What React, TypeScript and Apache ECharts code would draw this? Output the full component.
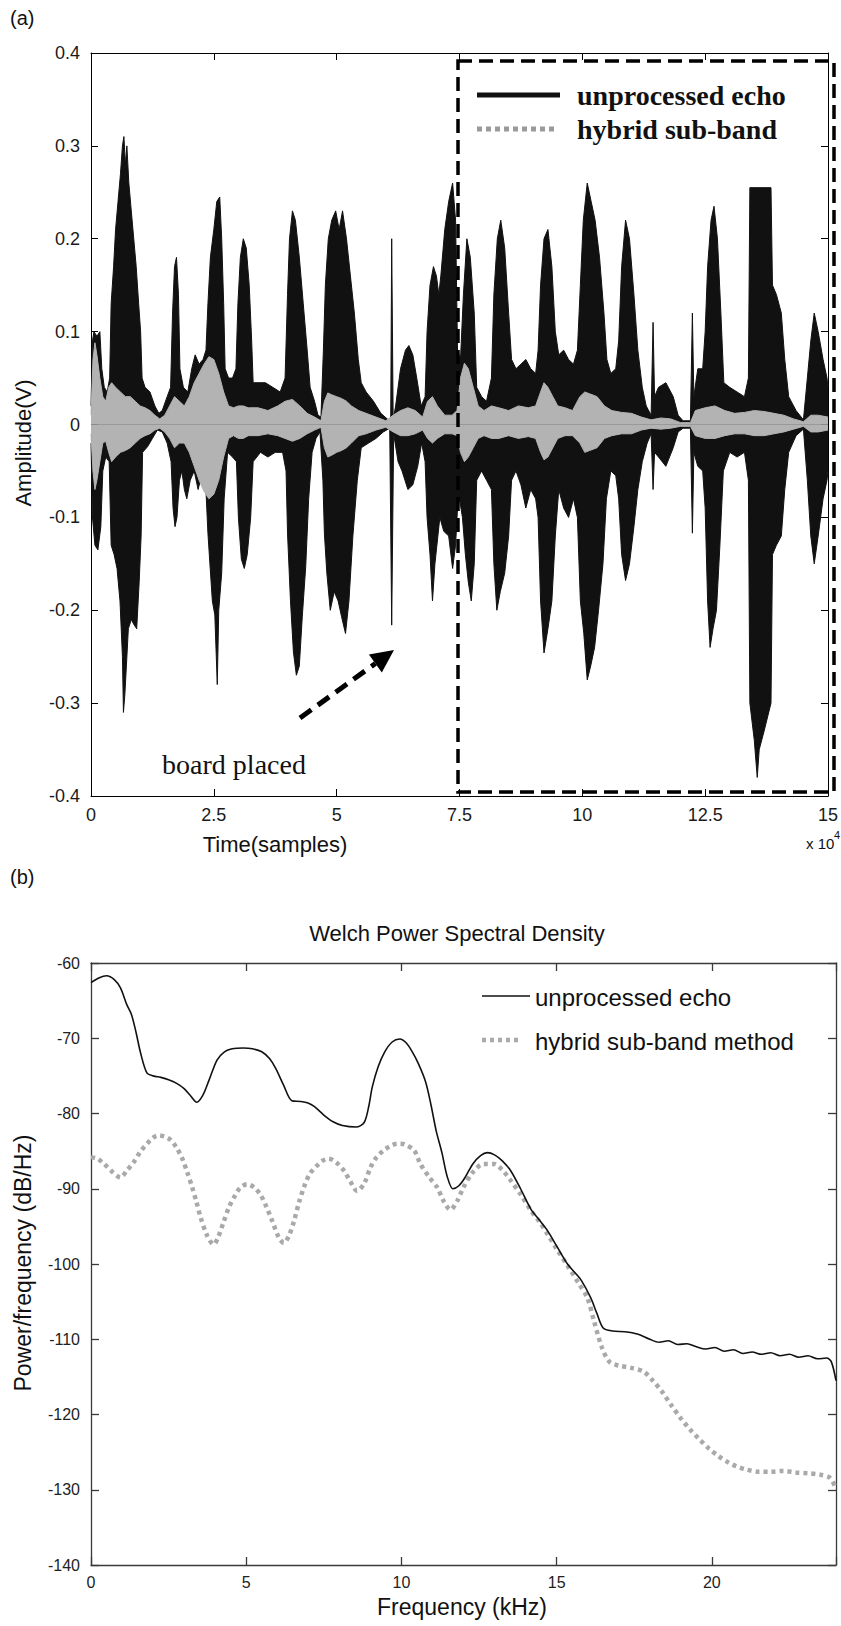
import React, { useEffect, useRef } from 'react';
import * as echarts from 'echarts';

// ---------- (a) time-domain envelopes: [time (x10^4 samples), amplitude (V)] ----------
const ECHO_UPPER: [number, number][] = [
  [0, 0.02], [0.03, 0.09], [0.06, 0.1], [0.12, 0.095], [0.18, 0.1], [0.22, 0.06], [0.27, 0.04], [0.33, 0.035], [0.38, 0.05],
  [0.41, 0.13], [0.46, 0.17], [0.5, 0.21], [0.55, 0.24], [0.6, 0.27], [0.64, 0.3], [0.67, 0.31], [0.7, 0.28], [0.73, 0.3], [0.77, 0.26], [0.82, 0.23], [0.87, 0.2], [0.92, 0.17], [0.97, 0.13], [1.01, 0.1], [1.04, 0.05],
  [1.1, 0.04], [1.2, 0.035], [1.3, 0.02], [1.38, 0.012], [1.45, 0.015], [1.55, 0.03], [1.62, 0.04],
  [1.66, 0.12], [1.7, 0.17], [1.74, 0.18], [1.78, 0.14], [1.81, 0.06],
  [1.88, 0.04], [1.97, 0.035], [2.05, 0.06], [2.12, 0.075], [2.2, 0.065], [2.28, 0.07], [2.34, 0.08],
  [2.38, 0.13], [2.43, 0.18], [2.5, 0.21], [2.56, 0.24], [2.62, 0.245], [2.66, 0.2], [2.7, 0.13], [2.73, 0.06],
  [2.8, 0.05], [2.88, 0.05], [2.95, 0.06],
  [2.99, 0.13], [3.04, 0.18], [3.1, 0.2], [3.16, 0.19], [3.22, 0.15], [3.27, 0.09], [3.3, 0.045],
  [3.4, 0.045], [3.55, 0.045], [3.7, 0.04], [3.85, 0.035], [3.95, 0.05],
  [4.0, 0.14], [4.04, 0.2], [4.1, 0.23], [4.16, 0.22], [4.24, 0.18], [4.32, 0.13], [4.4, 0.08], [4.46, 0.04],
  [4.55, 0.025], [4.62, 0.01], [4.68, 0.008],
  [4.73, 0.08], [4.77, 0.15], [4.83, 0.2], [4.9, 0.22], [4.98, 0.23], [5.05, 0.21], [5.12, 0.23], [5.2, 0.2], [5.28, 0.16], [5.36, 0.12], [5.44, 0.07],
  [5.5, 0.045], [5.6, 0.035], [5.75, 0.025], [5.9, 0.012], [6.05, 0.005], [6.1, 0.005], [6.12, 0.2], [6.15, 0.005],
  [6.2, 0.02], [6.3, 0.06], [6.4, 0.08], [6.47, 0.085], [6.55, 0.075], [6.63, 0.05], [6.72, 0.02], [6.8, 0.03],
  [6.84, 0.1], [6.9, 0.15], [6.97, 0.17], [7.03, 0.16], [7.08, 0.14],
  [7.12, 0.16], [7.2, 0.21], [7.28, 0.24], [7.36, 0.26], [7.42, 0.22], [7.46, 0.08],
  [7.52, 0.07], [7.58, 0.14], [7.65, 0.2], [7.72, 0.18], [7.8, 0.12], [7.85, 0.04],
  [7.95, 0.03], [8.05, 0.025], [8.15, 0.05],
  [8.2, 0.14], [8.27, 0.2], [8.34, 0.22], [8.42, 0.19], [8.5, 0.12], [8.56, 0.07],
  [8.65, 0.06], [8.75, 0.065], [8.85, 0.07], [8.95, 0.06], [9.05, 0.055], [9.1, 0.08],
  [9.15, 0.15], [9.22, 0.2], [9.3, 0.21], [9.38, 0.17], [9.45, 0.1],
  [9.52, 0.075], [9.62, 0.08], [9.72, 0.07], [9.82, 0.065], [9.9, 0.08],
  [9.96, 0.15], [10.02, 0.22], [10.1, 0.26], [10.18, 0.24], [10.26, 0.22], [10.35, 0.18], [10.44, 0.12], [10.5, 0.07],
  [10.58, 0.055], [10.68, 0.06], [10.74, 0.09],
  [10.8, 0.17], [10.88, 0.22], [10.96, 0.2], [11.05, 0.14], [11.13, 0.08],
  [11.22, 0.04], [11.3, 0.02], [11.4, 0.01], [11.44, 0.11], [11.47, 0.03], [11.55, 0.04], [11.7, 0.045], [11.85, 0.03], [11.95, 0.01],
  [12.05, 0.004], [12.2, 0.004], [12.24, 0.12], [12.27, 0.03], [12.35, 0.06], [12.45, 0.06], [12.5, 0.1],
  [12.55, 0.17], [12.62, 0.22], [12.68, 0.235], [12.75, 0.2], [12.82, 0.12], [12.88, 0.045],
  [13.0, 0.04], [13.15, 0.035], [13.3, 0.03], [13.38, 0.05],
  [13.41, 0.255], [13.84, 0.255], [13.87, 0.15], [13.95, 0.14], [14.05, 0.12], [14.12, 0.07],
  [14.2, 0.03], [14.35, 0.015], [14.5, 0.005],
  [14.58, 0.05], [14.65, 0.09], [14.72, 0.12], [14.8, 0.1], [14.9, 0.07], [14.98, 0.05], [15.0, 0.04],
];

const ECHO_LOWER: [number, number][] = [
  [0, -0.02], [0.03, -0.1], [0.08, -0.13], [0.14, -0.135], [0.2, -0.11], [0.24, -0.05], [0.3, -0.035], [0.37, -0.04],
  [0.41, -0.13], [0.47, -0.14], [0.53, -0.155], [0.59, -0.19], [0.64, -0.25], [0.66, -0.31], [0.69, -0.29], [0.72, -0.26], [0.76, -0.22], [0.82, -0.21], [0.87, -0.215], [0.93, -0.22], [0.98, -0.17], [1.02, -0.12], [1.05, -0.03],
  [1.15, -0.024], [1.25, -0.015], [1.35, -0.006], [1.45, -0.008], [1.55, -0.02], [1.63, -0.04],
  [1.67, -0.09], [1.71, -0.11], [1.75, -0.1], [1.8, -0.06],
  [1.85, -0.05], [1.9, -0.07], [1.95, -0.08], [2.02, -0.06], [2.1, -0.05], [2.18, -0.07], [2.25, -0.055], [2.33, -0.06],
  [2.38, -0.117], [2.42, -0.15], [2.47, -0.19], [2.52, -0.205], [2.57, -0.28], [2.6, -0.2], [2.66, -0.16], [2.71, -0.08],
  [2.78, -0.03], [2.88, -0.035], [2.96, -0.04],
  [3.0, -0.1], [3.06, -0.145], [3.12, -0.155], [3.18, -0.14], [3.25, -0.1], [3.3, -0.04],
  [3.45, -0.03], [3.6, -0.035], [3.75, -0.03], [3.9, -0.03], [3.97, -0.05],
  [4.0, -0.117], [4.06, -0.19], [4.12, -0.245], [4.18, -0.27], [4.24, -0.26], [4.3, -0.207], [4.37, -0.153], [4.43, -0.08],
  [4.5, -0.03], [4.58, -0.015], [4.66, -0.008],
  [4.72, -0.06], [4.75, -0.117], [4.8, -0.16], [4.87, -0.2], [4.95, -0.18], [5.03, -0.19], [5.1, -0.207], [5.18, -0.225], [5.25, -0.19], [5.33, -0.12], [5.42, -0.06],
  [5.5, -0.025], [5.65, -0.02], [5.8, -0.015], [5.95, -0.008], [6.08, -0.004], [6.12, -0.216], [6.16, -0.01],
  [6.25, -0.04], [6.33, -0.05], [6.45, -0.07], [6.55, -0.065], [6.65, -0.045], [6.73, -0.02], [6.8, -0.04],
  [6.84, -0.1], [6.9, -0.14], [6.95, -0.19], [7.0, -0.15], [7.06, -0.12],
  [7.1, -0.1], [7.18, -0.115], [7.28, -0.12], [7.36, -0.155], [7.42, -0.13], [7.46, -0.09],
  [7.5, -0.08], [7.56, -0.1], [7.62, -0.14], [7.68, -0.17], [7.74, -0.19], [7.8, -0.15], [7.85, -0.06],
  [7.95, -0.05], [8.05, -0.06], [8.15, -0.07],
  [8.2, -0.15], [8.26, -0.2], [8.33, -0.18], [8.42, -0.16], [8.5, -0.12], [8.56, -0.06],
  [8.65, -0.05], [8.75, -0.065], [8.85, -0.09], [8.95, -0.07], [9.05, -0.08], [9.1, -0.1],
  [9.15, -0.19], [9.22, -0.246], [9.3, -0.22], [9.38, -0.19], [9.45, -0.12],
  [9.52, -0.07], [9.62, -0.09], [9.72, -0.1], [9.82, -0.08], [9.9, -0.1],
  [9.96, -0.19], [10.03, -0.225], [10.1, -0.275], [10.17, -0.26], [10.25, -0.24], [10.33, -0.2], [10.42, -0.15], [10.49, -0.08],
  [10.58, -0.05], [10.68, -0.055], [10.74, -0.08],
  [10.8, -0.14], [10.88, -0.168], [10.96, -0.15], [11.05, -0.11], [11.13, -0.07],
  [11.22, -0.04], [11.32, -0.02], [11.4, -0.01], [11.44, -0.07], [11.47, -0.03], [11.55, -0.035], [11.7, -0.045], [11.85, -0.025], [11.95, -0.008],
  [12.05, -0.004], [12.2, -0.004], [12.24, -0.117], [12.27, -0.03], [12.35, -0.045], [12.45, -0.05], [12.5, -0.09],
  [12.55, -0.19], [12.6, -0.24], [12.66, -0.22], [12.73, -0.2], [12.8, -0.13], [12.87, -0.05],
  [13.0, -0.03], [13.15, -0.035], [13.3, -0.03], [13.38, -0.06],
  [13.41, -0.3], [13.5, -0.34], [13.56, -0.38], [13.6, -0.35], [13.7, -0.33], [13.84, -0.3], [13.87, -0.14], [13.95, -0.13], [14.05, -0.12], [14.12, -0.07],
  [14.2, -0.03], [14.35, -0.012], [14.5, -0.005],
  [14.58, -0.06], [14.65, -0.12], [14.72, -0.15], [14.8, -0.12], [14.9, -0.08], [14.98, -0.06], [15.0, -0.05],
];

const HYBRID_UPPER: [number, number][] = [
  [0, 0.01], [0.04, 0.07], [0.08, 0.088], [0.12, 0.075], [0.18, 0.05], [0.24, 0.03], [0.3, 0.025], [0.36, 0.04], [0.42, 0.045], [0.5, 0.04],
  [0.6, 0.035], [0.7, 0.03], [0.8, 0.03], [0.9, 0.025], [1.0, 0.02], [1.1, 0.018], [1.2, 0.015], [1.3, 0.01], [1.4, 0.006], [1.5, 0.01],
  [1.6, 0.02], [1.7, 0.03], [1.8, 0.025], [1.9, 0.02], [2.0, 0.03], [2.1, 0.045], [2.2, 0.055], [2.3, 0.065], [2.4, 0.073], [2.5, 0.07],
  [2.6, 0.055], [2.7, 0.035], [2.8, 0.02], [2.9, 0.018], [3.0, 0.02], [3.1, 0.02], [3.2, 0.018], [3.4, 0.018], [3.6, 0.015], [3.8, 0.02],
  [3.95, 0.025], [4.1, 0.027], [4.25, 0.02], [4.4, 0.012], [4.55, 0.008], [4.68, 0.004], [4.75, 0.025], [4.82, 0.034], [4.9, 0.032], [5.0, 0.03],
  [5.1, 0.028], [5.2, 0.025], [5.3, 0.02], [5.45, 0.015], [5.6, 0.012], [5.8, 0.008], [6.0, 0.004], [6.15, 0.01], [6.3, 0.015], [6.45, 0.018],
  [6.6, 0.015], [6.75, 0.008], [6.85, 0.025], [6.95, 0.03], [7.05, 0.02], [7.2, 0.01], [7.35, 0.01], [7.45, 0.015], [7.52, 0.05], [7.6, 0.066],
  [7.68, 0.06], [7.78, 0.04], [7.88, 0.02], [8.0, 0.015], [8.15, 0.02], [8.3, 0.018], [8.5, 0.015], [8.7, 0.02], [8.9, 0.018], [9.05, 0.02],
  [9.15, 0.035], [9.22, 0.045], [9.3, 0.04], [9.4, 0.03], [9.5, 0.02], [9.65, 0.018], [9.8, 0.015], [9.95, 0.03], [10.05, 0.035], [10.15, 0.033],
  [10.3, 0.03], [10.45, 0.02], [10.6, 0.015], [10.8, 0.013], [11.0, 0.012], [11.2, 0.008], [11.4, 0.005], [11.6, 0.007], [11.8, 0.006], [12.0, 0.002],
  [12.2, 0.002], [12.3, 0.015], [12.5, 0.018], [12.7, 0.02], [12.9, 0.015], [13.1, 0.012], [13.3, 0.013], [13.5, 0.015], [13.7, 0.014], [13.9, 0.012],
  [14.1, 0.01], [14.3, 0.006], [14.5, 0.003], [14.65, 0.01], [14.8, 0.01], [15.0, 0.008],
];

const HYBRID_LOWER: [number, number][] = [
  [0, -0.01], [0.04, -0.05], [0.08, -0.07], [0.12, -0.06], [0.18, -0.04], [0.24, -0.02], [0.3, -0.018], [0.36, -0.03], [0.42, -0.04], [0.5, -0.035],
  [0.6, -0.03], [0.7, -0.028], [0.8, -0.025], [0.9, -0.02], [1.0, -0.015], [1.1, -0.012], [1.2, -0.01], [1.3, -0.006], [1.4, -0.004], [1.5, -0.008],
  [1.6, -0.015], [1.7, -0.025], [1.8, -0.02], [1.9, -0.02], [2.0, -0.03], [2.1, -0.045], [2.2, -0.06], [2.3, -0.072], [2.4, -0.08], [2.5, -0.075],
  [2.6, -0.06], [2.7, -0.035], [2.8, -0.015], [2.9, -0.012], [3.0, -0.015], [3.1, -0.015], [3.2, -0.012], [3.4, -0.012], [3.6, -0.01], [3.8, -0.012],
  [3.95, -0.015], [4.1, -0.018], [4.25, -0.015], [4.4, -0.01], [4.55, -0.006], [4.68, -0.003], [4.75, -0.025], [4.82, -0.035], [4.9, -0.033], [5.0, -0.03],
  [5.1, -0.028], [5.2, -0.025], [5.3, -0.02], [5.45, -0.012], [5.6, -0.01], [5.8, -0.006], [6.0, -0.003], [6.15, -0.008], [6.3, -0.012], [6.45, -0.012],
  [6.6, -0.01], [6.75, -0.006], [6.85, -0.015], [6.95, -0.02], [7.05, -0.015], [7.2, -0.01], [7.35, -0.01], [7.45, -0.012], [7.52, -0.03], [7.6, -0.04],
  [7.68, -0.035], [7.78, -0.025], [7.88, -0.015], [8.0, -0.012], [8.15, -0.015], [8.3, -0.015], [8.5, -0.012], [8.7, -0.015], [8.9, -0.013], [9.05, -0.015],
  [9.15, -0.03], [9.22, -0.038], [9.3, -0.035], [9.4, -0.025], [9.5, -0.015], [9.65, -0.012], [9.8, -0.012], [9.95, -0.02], [10.05, -0.03], [10.15, -0.028],
  [10.3, -0.025], [10.45, -0.015], [10.6, -0.012], [10.8, -0.01], [11.0, -0.01], [11.2, -0.006], [11.4, -0.004], [11.6, -0.005], [11.8, -0.004], [12.0, -0.002],
  [12.2, -0.002], [12.3, -0.012], [12.5, -0.015], [12.7, -0.015], [12.9, -0.012], [13.1, -0.01], [13.3, -0.01], [13.5, -0.012], [13.7, -0.012], [13.9, -0.01],
  [14.1, -0.008], [14.3, -0.005], [14.5, -0.002], [14.65, -0.008], [14.8, -0.008], [15.0, -0.006],
];

// ---------- (b) Welch PSD: [frequency (kHz), dB/Hz] ----------
const PSD_ECHO: [number, number][] = [
  [0, -62.6], [0.25, -62.0], [0.5, -61.7], [0.75, -62.2], [0.95, -63.3], [1.15, -65.5], [1.3, -66.8], [1.45, -69.2], [1.6, -72], [1.8, -74.6],
  [2.0, -75.0], [2.25, -75.2], [2.5, -75.5], [2.76, -76.0], [3.0, -76.7], [3.2, -77.6], [3.41, -78.5], [3.6, -77.6], [3.8, -75.6], [4.06, -72.9],
  [4.3, -71.8], [4.55, -71.4], [4.9, -71.3], [5.2, -71.4], [5.5, -71.8], [5.75, -72.7], [5.95, -74.0], [6.2, -76.2], [6.47, -78.3], [6.75, -78.4],
  [6.99, -78.6], [7.2, -79.1], [7.5, -80.2], [7.8, -81.1], [8.1, -81.6], [8.54, -81.8], [8.8, -81.2], [8.95, -79], [9.06, -76.5], [9.25, -73.8],
  [9.45, -71.9], [9.7, -70.5], [9.95, -70.1], [10.15, -70.6], [10.35, -71.8], [10.55, -73.4], [10.78, -75.8], [10.95, -78.8], [11.12, -82.3], [11.31, -85.3],
  [11.47, -88.3], [11.66, -90.0], [11.85, -89.6], [12.05, -88.5], [12.3, -86.7], [12.55, -85.6], [12.77, -85.2], [13.0, -85.5], [13.25, -86.3], [13.52, -87.6],
  [13.85, -90.1], [14.17, -92.7], [14.45, -94.2], [14.71, -95.6], [15.0, -97.6], [15.35, -100], [15.6, -101.2], [15.8, -102.2], [16.1, -104.5], [16.3, -106.6],
  [16.5, -108.5], [16.8, -108.9], [17.2, -109.0], [17.6, -109.3], [18.0, -110.0], [18.3, -110.4], [18.6, -110.2], [18.9, -110.7], [19.2, -110.6], [19.5, -111.0],
  [19.8, -111.3], [20.1, -111.1], [20.4, -111.6], [20.7, -111.4], [21.0, -111.9], [21.3, -111.7], [21.6, -112.0], [21.9, -111.8], [22.2, -112.2], [22.5, -112.0],
  [22.8, -112.4], [23.1, -112.2], [23.4, -112.6], [23.7, -112.5], [23.85, -113.0], [24.0, -115.5],
];

const PSD_HYBRID: [number, number][] = [
  [0, -85.8], [0.2, -86.0], [0.4, -86.6], [0.7, -87.8], [0.95, -88.5], [1.15, -87.6], [1.37, -86.5], [1.6, -85.0], [1.81, -84.0], [2.0, -83.2],
  [2.18, -82.9], [2.4, -83.1], [2.56, -83.5], [2.75, -84.5], [2.94, -86.0], [3.1, -87.8], [3.26, -89.8], [3.4, -91.8], [3.53, -93.8], [3.75, -96.3],
  [3.95, -97.4], [4.1, -96.4], [4.28, -94.3], [4.45, -92.4], [4.6, -91.2], [4.8, -89.9], [5.03, -89.4], [5.25, -89.8], [5.46, -90.8], [5.65, -92.4],
  [5.84, -94.3], [6.05, -96.5], [6.21, -97.2], [6.38, -96.2], [6.54, -94.3], [6.7, -91.8], [6.86, -89.8], [7.05, -88.0], [7.29, -86.9], [7.45, -86.3],
  [7.66, -86.0], [7.9, -86.5], [8.15, -87.6], [8.35, -89.0], [8.57, -90.3], [8.8, -89.3], [9.0, -87.2], [9.2, -85.8], [9.43, -84.9], [9.65, -84.3],
  [9.87, -84.0], [10.1, -84.1], [10.41, -84.9], [10.61, -86.7], [10.9, -88.5], [11.15, -89.8], [11.38, -91.8], [11.58, -92.8], [11.8, -91.6], [12.0, -89.8],
  [12.3, -87.8], [12.65, -86.7], [12.98, -86.7], [13.25, -87.5], [13.52, -88.9], [13.85, -90.8], [14.17, -92.9], [14.45, -94.4], [14.7, -96.0], [15.0, -98.0],
  [15.35, -100.2], [15.7, -102.5], [15.99, -104.5], [16.2, -107.5], [16.45, -111.0], [16.7, -113.0], [17.0, -113.5], [17.4, -113.8], [17.8, -114.3], [18.1, -115.5],
  [18.4, -117.0], [18.7, -118.8], [19.0, -120.5], [19.3, -122.0], [19.6, -123.3], [19.9, -124.5], [20.2, -125.5], [20.5, -126.3], [20.8, -126.9], [21.1, -127.3],
  [21.5, -127.6], [21.9, -127.6], [22.3, -127.5], [22.7, -127.7], [23.1, -127.8], [23.5, -128.0], [23.8, -128.4], [24.0, -129.8],
];

const SANS = '"Liberation Sans", Arial, sans-serif';
const SERIF = '"Liberation Serif", "Times New Roman", serif';
const BLACK = '#111111';
const GRAY = '#b3b3b3';
const GRAY_LINE = '#a9a9a9';

function boxAxis(gridIndex: number, position: string, min: number, max: number, interval: number, showLabel: boolean, labelCfg: any, lineColor: string, lineWidth: number, tickLen: number) {
  return {
    type: 'value', gridIndex, position, min, max, interval,
    axisLine: { show: true, onZero: false, lineStyle: { color: lineColor, width: lineWidth } },
    axisTick: { show: true, inside: true, length: tickLen, lineStyle: { color: lineColor, width: lineWidth } },
    splitLine: { show: false },
    axisLabel: showLabel ? labelCfg : { show: false },
  };
}

export default function App() {
  const ref = useRef<HTMLDivElement>(null);
  useEffect(() => {
    if (!ref.current) return;
    const chart = echarts.init(ref.current, null, { renderer: 'svg' });

    const ampLabel = {
      show: true, margin: 11, fontSize: 18, fontFamily: SANS, color: '#1a1a1a',
      formatter: (v: number) => (Math.abs(v) < 1e-9 ? '0' : v.toFixed(1)),
    };
    const timeLabel = {
      show: true, margin: 10, fontSize: 18, fontFamily: SANS, color: '#1a1a1a',
      formatter: (v: number) => String(Math.round(v * 10) / 10),
    };
    const dbLabel = { show: true, margin: 11, fontSize: 16, fontFamily: SANS, color: '#222', formatter: (v: number) => String(Math.round(v)) };
    const freqLabel = {
      show: true, margin: 9, fontSize: 16, fontFamily: SANS, color: '#222',
      formatter: (v: number) => (v > 23 ? '' : String(Math.round(v))),
    };

    const text = (x: number, y: number, t: string, o: any = {}) => ({
      type: 'text', x, y, rotation: o.rotation || 0, silent: true,
      style: {
        text: t, fill: o.fill || '#111', fontSize: o.fontSize || 18, fontFamily: o.fontFamily || SANS,
        fontWeight: o.fontWeight || 'normal', align: o.align || 'left', verticalAlign: o.verticalAlign || 'middle',
      },
    });

    // arrow geometry (pixels)
    const tip = [394, 650];
    const tail = [300, 718];
    const dx = tip[0] - tail[0], dy = tip[1] - tail[1];
    const len = Math.hypot(dx, dy);
    const ux = dx / len, uy = dy / len;
    const hl = 23, hw = 11;
    const bc = [tip[0] - ux * hl, tip[1] - uy * hl];

    chart.setOption({
      animation: false,
      backgroundColor: '#ffffff',
      grid: [
        { left: 91, top: 53, width: 738, height: 743 },
        { left: 91, top: 963, width: 745, height: 602 },
      ],
      xAxis: [
        boxAxis(0, 'bottom', 0, 15, 2.5, true, timeLabel, '#000', 1, 7),
        boxAxis(0, 'top', 0, 15, 2.5, false, null, '#000', 1, 7),
        boxAxis(1, 'bottom', 0, 24, 5, true, freqLabel, '#3a3a3a', 1.3, 8),
        boxAxis(1, 'top', 0, 24, 5, false, null, '#3a3a3a', 1.3, 8),
      ],
      yAxis: [
        boxAxis(0, 'left', -0.4, 0.4, 0.1, true, ampLabel, '#000', 1, 7),
        boxAxis(0, 'right', -0.4, 0.4, 0.1, false, null, '#000', 1, 7),
        boxAxis(1, 'left', -140, -60, 10, true, dbLabel, '#3a3a3a', 1.3, 8),
        boxAxis(1, 'right', -140, -60, 10, false, null, '#3a3a3a', 1.3, 8),
      ],
      series: [
        { name: 'unprocessed echo', type: 'line', xAxisIndex: 0, yAxisIndex: 0, data: ECHO_UPPER, showSymbol: false, symbol: 'none',
          lineStyle: { color: BLACK, width: 1 }, areaStyle: { color: BLACK, opacity: 1 }, z: 2 },
        { name: 'unprocessed echo lower', type: 'line', xAxisIndex: 0, yAxisIndex: 0, data: ECHO_LOWER, showSymbol: false, symbol: 'none',
          lineStyle: { color: BLACK, width: 1 }, areaStyle: { color: BLACK, opacity: 1 }, z: 2 },
        { name: 'hybrid sub-band', type: 'line', xAxisIndex: 0, yAxisIndex: 0, data: HYBRID_UPPER, showSymbol: false, symbol: 'none',
          lineStyle: { color: GRAY, width: 1 }, areaStyle: { color: GRAY, opacity: 1 }, z: 3 },
        { name: 'hybrid sub-band lower', type: 'line', xAxisIndex: 0, yAxisIndex: 0, data: HYBRID_LOWER, showSymbol: false, symbol: 'none',
          lineStyle: { color: GRAY, width: 1 }, areaStyle: { color: GRAY, opacity: 1 }, z: 3 },
        { name: 'hybrid sub-band method', type: 'line', xAxisIndex: 2, yAxisIndex: 2, data: PSD_HYBRID, showSymbol: false, symbol: 'none',
          smooth: 0.3, lineStyle: { color: GRAY_LINE, width: 4.5, type: [4, 4], cap: 'butt' }, z: 3 },
        { name: 'unprocessed echo psd', type: 'line', xAxisIndex: 2, yAxisIndex: 2, data: PSD_ECHO, showSymbol: false, symbol: 'none',
          smooth: 0.3, lineStyle: { color: BLACK, width: 1.6 }, z: 4 },
      ],
      graphic: [
        text(10, 18, '(a)', { fontSize: 20 }),
        text(10, 877, '(b)', { fontSize: 20 }),
        text(23, 443, 'Amplitude(V)', { fontSize: 22, rotation: Math.PI / 2, align: 'center' }),
        text(275, 844, 'Time(samples)', { fontSize: 22, align: 'center' }),
        text(806, 843, 'x 10', { fontSize: 15 }),
        text(834, 835, '4', { fontSize: 11 }),
        text(457, 933, 'Welch Power Spectral Density', { fontSize: 22, align: 'center' }),
        text(23, 1263, 'Power/frequency (dB/Hz)', { fontSize: 23, rotation: Math.PI / 2, align: 'center' }),
        text(462, 1607, 'Frequency (kHz)', { fontSize: 23, align: 'center' }),
        // legend (a)
        { type: 'line', silent: true, shape: { x1: 477, y1: 95, x2: 560, y2: 95 }, style: { stroke: BLACK, lineWidth: 5 } },
        text(577, 95, 'unprocessed echo', { fontSize: 28, fontFamily: SERIF, fontWeight: 'bold' }),
        { type: 'line', silent: true, shape: { x1: 477, y1: 129, x2: 556, y2: 129 }, style: { stroke: '#9a9a9a', lineWidth: 5, lineDash: [5, 4] } },
        text(577, 129, 'hybrid sub-band', { fontSize: 28, fontFamily: SERIF, fontWeight: 'bold' }),
        // legend (b)
        { type: 'line', silent: true, shape: { x1: 482, y1: 996, x2: 530, y2: 996 }, style: { stroke: BLACK, lineWidth: 1.6 } },
        text(535, 997, 'unprocessed echo', { fontSize: 24 }),
        { type: 'line', silent: true, shape: { x1: 482, y1: 1040, x2: 522, y2: 1040 }, style: { stroke: GRAY_LINE, lineWidth: 4.5, lineDash: [4, 4] } },
        text(535, 1041, 'hybrid sub-band method', { fontSize: 24 }),
        // dashed box (a)
        { type: 'rect', silent: true, z: 10, shape: { x: 458, y: 61, width: 376, height: 731 },
          style: { fill: 'none', stroke: '#000', lineWidth: 3.5, lineDash: [14, 7] } },
        // arrow + annotation
        { type: 'line', silent: true, z: 10, shape: { x1: tail[0], y1: tail[1], x2: bc[0], y2: bc[1] },
          style: { stroke: '#000', lineWidth: 5, lineDash: [14, 8] } },
        { type: 'polygon', silent: true, z: 10, shape: { points: [tip, [bc[0] + uy * hw, bc[1] - ux * hw], [bc[0] - uy * hw, bc[1] + ux * hw]] },
          style: { fill: '#000' } },
        text(234, 764, 'board placed', { fontSize: 28, fontFamily: SERIF, align: 'center' }),
      ],
    });
    return () => chart.dispose();
  }, []);
  return <div ref={ref} style={{ position: 'absolute', left: 0, top: 0, width: 841, height: 1626 }} />;
}
